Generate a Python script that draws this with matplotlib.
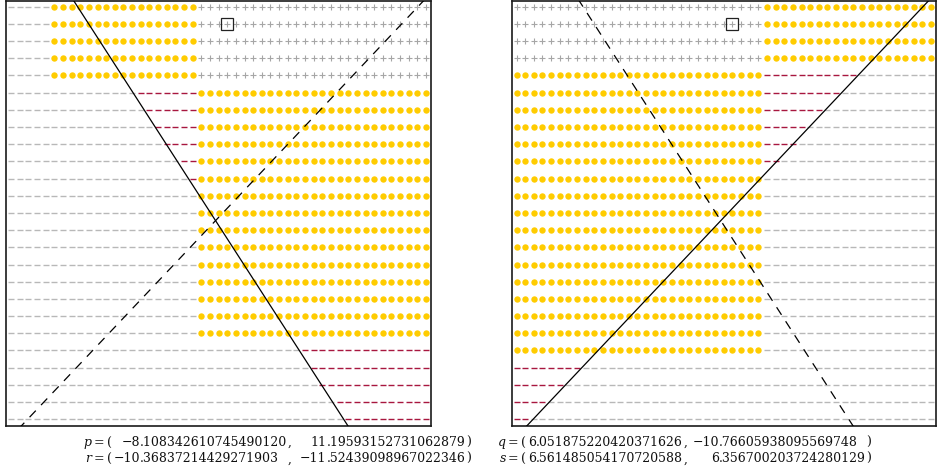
import matplotlib
matplotlib.use("Agg")
import matplotlib.pyplot as plt
import numpy as np

N_COLS = 49
N_ROWS = 25

# Per-row [start, stop) column spans of each cell kind (None = nothing in that row).
# Cells not covered by dots, plus signs or red dashes get a grey dash.
left_dots = [(5, 22)] * 5 + [(22, 49)] * 15 + [None] * 5
left_plus = [(22, 49)] * 5 + [None] * 20
left_red = ([None] * 5
            + [(15, 22), (16, 22), (17, 22), (18, 22), (20, 22), (21, 22)]
            + [None] * 9
            + [(34, 49), (35, 49), (36, 49), (38, 49), (39, 49)])

right_dots = [(29, 49)] * 4 + [(0, 29)] * 17 + [None] * 4
right_plus = [(0, 29)] * 4 + [None] * 21
right_red = ([None] * 4
             + [(29, 40), (29, 38), (29, 36), (29, 34), (29, 33), (29, 31)]
             + [None] * 11
             + [(0, 8), (0, 6), (0, 4), (0, 2)])

# the exact point (column, row)
marked_cell = (25, 1)

# two straight lines, given by their column at row -1 and row 25
line_rows = [-1, 25]
line_a_cols = [6.397, 39.755]
line_b_cols = [48.962, 0.03]

# coordinate labels under each panel
left_labels = [("p", "−8.108342610745490120", "11.19593152731062879"),
               ("r", "−10.36837214429271903", "−11.52439098967022346")]
right_labels = [("q", "6.051875220420371626", "−10.76605938095569748"),
                ("s", "6.561485054170720588", "6.356700203724280129")]

GOLD = "#FFCC00"
PLUS_GREY = "#a6a6a6"
DASH_GREY = "#b8b8b8"
RED = "#a8173f"

W, H = 939, 476
fig = plt.figure(figsize=(W / 100, H / 100), dpi=100)
plt.rcParams["lines.scale_dashes"] = False
plt.rcParams["mathtext.fontset"] = "dejavuserif"


def px_axes(x0, x1, y0, y1):
    return fig.add_axes([x0 / W, 1 - y1 / H, (x1 - x0) / W, (y1 - y0) / H])


def build_grid(dots, plus, red):
    grid = np.full((N_ROWS, N_COLS), "-", dtype="<U1")
    for r in range(N_ROWS):
        for spans, ch in ((dots, "o"), (plus, "+"), (red, "r")):
            if spans[r] is not None:
                a, b = spans[r]
                grid[r, a:b] = ch
    return grid


def draw_panel(ax, grid, solid_cols, dashed_cols):
    rr, cc = np.indices(grid.shape)
    sel = grid == "-"
    ax.plot(cc[sel], rr[sel], ls="none", marker="_", ms=3.7, mew=1.0,
            color=DASH_GREY, zorder=2)
    sel = grid == "r"
    ax.plot(cc[sel], rr[sel], ls="none", marker="_", ms=3.7, mew=1.0,
            color=RED, zorder=2)
    sel = grid == "+"
    ax.plot(cc[sel], rr[sel], ls="none", marker="+", ms=4.2, mew=0.8,
            color=PLUS_GREY, zorder=2)
    sel = grid == "o"
    ax.plot(cc[sel], rr[sel], ls="none", marker="o", ms=4.6, mew=0,
            color=GOLD, zorder=3)
    ax.plot([marked_cell[0]], [marked_cell[1]], ls="none", marker="s", ms=8.4,
            mfc="none", mec="#222222", mew=0.9, zorder=4)
    ax.plot(solid_cols, line_rows, color="black", lw=0.9, zorder=5)
    ax.plot(dashed_cols, line_rows, color="black", lw=0.9,
            ls=(0, (6.5, 5.5)), zorder=5)
    ax.set_xlim(-0.585, 48.57)
    ax.set_ylim(24.39, -0.35)
    ax.set_xticks([])
    ax.set_yticks([])
    for s in ax.spines.values():
        s.set_linewidth(1.2)
        s.set_color("#1a1a1a")


ax_l = px_axes(6, 431, 0.5, 426)
ax_r = px_axes(511.5, 936, 0.5, 426)
draw_panel(ax_l, build_grid(left_dots, left_plus, left_red), line_a_cols, line_b_cols)
draw_panel(ax_r, build_grid(right_dots, right_plus, right_red), line_b_cols, line_a_cols)

renderer = fig.canvas.get_renderer()


def ftext(x, y, s, ha="left"):
    t = fig.text(x / W, 1 - y / H, s, ha=ha, va="baseline", fontsize=9.0,
                 family="DejaVu Serif", color="#111111")
    return t.get_window_extent(renderer)


# Coordinate pairs set in two decimal-aligned columns.
baselines = [445.7, 462.3]
blocks = [(left_labels, (140.0, 326.5)),
          (right_labels, (536.0, 719.0))]

for labels, dec_x in blocks:
    ends = [[], []]
    starts = []
    for (name, a, b), yb in zip(labels, baselines):
        for j, num in enumerate((a, b)):
            whole, frac = num.split(".")
            bb = ftext(dec_x[j], yb, whole, ha="right")
            if j == 0:
                starts.append(bb.x0)
            ends[j].append(ftext(dec_x[j], yb, "." + frac).x1)
    open_x = min(starts) - 1.5
    comma_x = max(ends[0]) + 0.5
    paren_x = max(ends[1]) + 0.5
    for (name, _, _), yb in zip(labels, baselines):
        ftext(open_x, yb, rf"${name}=($", ha="right")
        ftext(comma_x, yb, ",")
        ftext(paren_x, yb, ")")

fig.savefig("out.png", dpi=100)
